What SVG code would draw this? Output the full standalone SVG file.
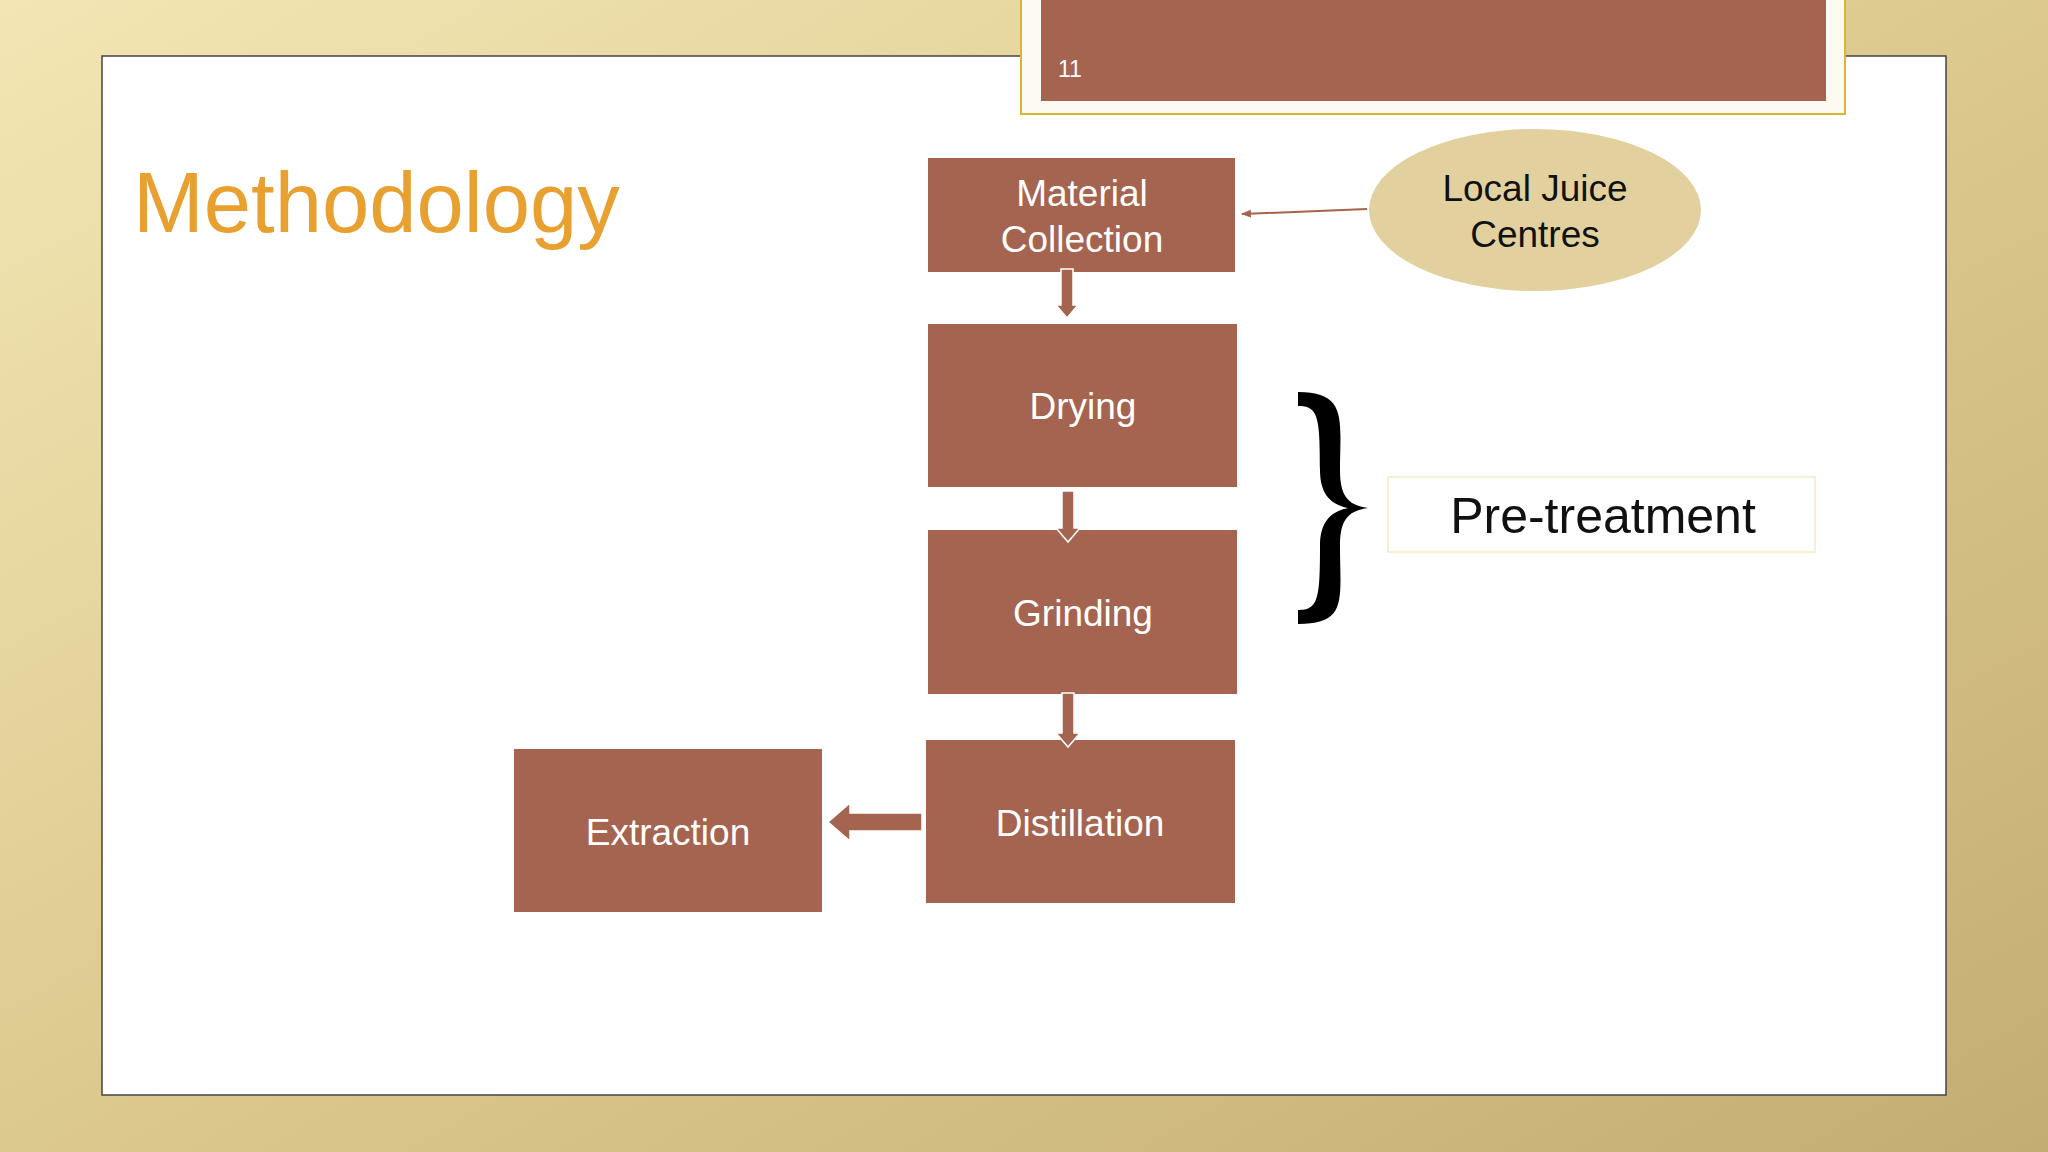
<svg xmlns="http://www.w3.org/2000/svg" width="2048" height="1152" viewBox="0 0 2048 1152">
<defs>
<linearGradient id="bg" x1="0" y1="0" x2="1" y2="1">
<stop offset="0" stop-color="#F3E6B4"/><stop offset="0.5" stop-color="#DCC98E"/><stop offset="1" stop-color="#C4AD72"/>
</linearGradient>
<marker id="ah" markerWidth="10" markerHeight="8" refX="9" refY="4" orient="auto" markerUnits="userSpaceOnUse">
<path d="M0,0 L10,4 L0,8 Z" fill="#A5644F"/>
</marker>
<style>
.box{fill:#A5644F;stroke:#fff;stroke-width:2}
.bt{font-family:"Liberation Sans",Arial,sans-serif;font-size:37px;fill:#fff;text-anchor:middle}
.blk{fill:#A5644F;stroke:#fff;stroke-width:1.5}
</style>
</defs>
<rect width="2048" height="1152" fill="url(#bg)"/>
<rect x="102" y="56" width="1844" height="1039" fill="#fff" stroke="#444" stroke-width="1.5"/>
<g id="header">
<rect x="1021" y="-2" width="824" height="116" fill="#FDFBF1" stroke="#D8B536" stroke-width="2"/>
<rect x="1041" y="-2" width="785" height="103" fill="#A5644F"/>
<text x="1058" y="77" font-family="Liberation Sans,Arial,sans-serif" font-size="23" fill="#fff">11</text>
</g>
<text x="133" y="232" font-family="Liberation Sans,Arial,sans-serif" font-size="85" fill="#E8A030">Methodology</text>
<g id="material"><rect class="box" x="927" y="157" width="309" height="116"/>
<text class="bt" x="1082" y="206">Material</text><text class="bt" x="1082" y="252">Collection</text></g>
<g id="drying"><rect class="box" x="927" y="323" width="311" height="165"/><text class="bt" x="1083" y="419">Drying</text></g>
<g id="grinding"><rect class="box" x="927" y="529" width="311" height="166"/><text class="bt" x="1083" y="626">Grinding</text></g>
<g id="distillation"><rect class="box" x="925" y="739" width="311" height="165"/><text class="bt" x="1080" y="836">Distillation</text></g>
<g id="extraction"><rect class="box" x="513" y="748" width="310" height="165"/><text class="bt" x="668" y="845">Extraction</text></g>
<g id="local"><ellipse cx="1535" cy="210" rx="166" ry="81" fill="#E2D19E"/>
<text x="1535" y="201" font-family="Liberation Sans,Arial,sans-serif" font-size="37" fill="#111" text-anchor="middle">Local Juice</text>
<text x="1535" y="247" font-family="Liberation Sans,Arial,sans-serif" font-size="37" fill="#111" text-anchor="middle">Centres</text></g>
<g id="pretreatment"><rect x="1388" y="477" width="427" height="75" fill="#fff" stroke="#F3EBC8" stroke-width="1.5"/>
<text x="1603" y="533" font-family="Liberation Sans,Arial,sans-serif" font-size="50" fill="#111" text-anchor="middle">Pre-treatment</text>
<path d="M1298,392 C1348,392 1340,420 1340,470 C1340,495 1347,505 1368,508 C1347,511 1340,521 1340,546 C1340,600 1348,624 1298,624 L1298,610 C1318,610 1320,600 1320,546 C1320,525 1328,512 1348,508 C1328,504 1320,491 1320,470 C1320,416 1318,406 1298,406 Z" fill="#000"/></g>
<g id="connectors">
<line x1="1367" y1="209" x2="1242" y2="214" stroke="#A5644F" stroke-width="2" marker-end="url(#ah)"/>
<path class="blk" d="M1061,269 L1073,269 L1073,305 L1078,305 L1067,318 L1056,305 L1061,305 Z"/>
<path class="blk" d="M1062,491 L1074,491 L1074,528 L1080,528 L1068,542 L1056,528 L1062,528 Z"/>
<path class="blk" d="M1062,693 L1074,693 L1074,733 L1080,733 L1068,747 L1056,733 L1062,733 Z"/>
<path class="blk" d="M922,813 L850,813 L850,803 L828,822 L850,841 L850,831 L922,831 Z"/>
</g>
</svg>
